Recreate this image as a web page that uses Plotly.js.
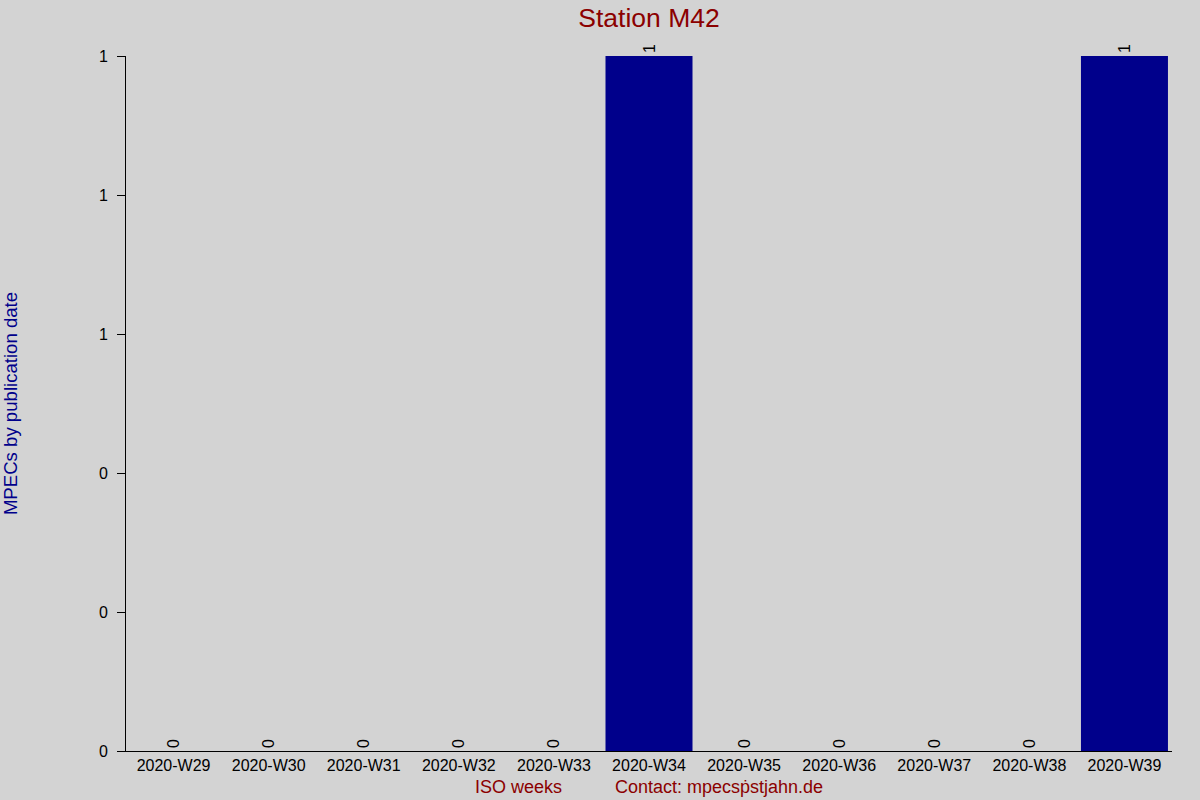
<!DOCTYPE html>
<html>
<head>
<meta charset="utf-8">
<script src="https://cdn.plot.ly/plotly-3.0.1.min.js"></script>
<style>
  html, body { margin: 0; padding: 0; background: #d3d3d3; }
  #chart { width: 1200px; height: 800px; }
</style>
</head>
<body>
<div id="chart"></div>
<script>
  // ISO weeks and MPEC counts
  const weeks = ['2020-W29', '2020-W30', '2020-W31', '2020-W32', '2020-W33', '2020-W34',
                 '2020-W35', '2020-W36', '2020-W37', '2020-W38', '2020-W39'];
  const counts = [0, 0, 0, 0, 0, 1, 0, 0, 0, 0, 1];
  const yTicks = [0, 0.2, 0.4, 0.6, 0.8, 1];

  const FONT = 'Liberation Sans, Arial, sans-serif';
  const DARKRED = '#8b0000';
  const NAVY = '#00008b';

  const trace = {
    type: 'bar',
    x: weeks,
    y: counts,
    marker: { color: NAVY },
    text: counts.map(String),
    textposition: 'outside',
    textangle: -90,
    constraintext: 'none',
    cliponaxis: false,
    textfont: { family: FONT, size: 16, color: '#000' },
    hoverinfo: 'x+y',
  };

  const layout = {
    width: 1200, height: 800,
    paper_bgcolor: '#d3d3d3',
    plot_bgcolor: '#d3d3d3',
    font: { family: FONT, size: 16, color: '#000' },
    margin: { l: 126, r: 28, t: 56, b: 49 },
    showlegend: false,
    bargap: 0.085,
    title: {
      text: 'Station M42',
      font: { family: FONT, size: 26.5, color: DARKRED },
      x: 0.5, xref: 'paper', y: 0.978, yanchor: 'middle',
    },
    xaxis: {
      type: 'category',
      showline: true, linecolor: '#000', linewidth: 1,
      ticks: '', showgrid: false, zeroline: false,
      tickfont: { family: FONT, size: 16, color: '#000' },
    },
    yaxis: {
      range: [0, 1],
      tickvals: yTicks,
      tickformat: '.0f',
      showline: true, linecolor: '#000', linewidth: 1,
      ticks: 'outside', ticklen: 8, tickcolor: '#000',
      ticklabelstandoff: 6,
      showgrid: false, zeroline: false,
      tickfont: { family: FONT, size: 16, color: '#000' },
      title: {
        text: 'MPECs by publication date',
        font: { family: FONT, size: 18.6, color: NAVY },
        standoff: 78,
      },
    },
    annotations: [
      { text: 'ISO weeks', xref: 'paper', yref: 'paper', x: 0.375, y: -0.052,
        xanchor: 'center', yanchor: 'middle', showarrow: false,
        font: { family: FONT, size: 18, color: DARKRED } },
      { text: 'Contact: mpecsṗstjahn.de', xref: 'paper', yref: 'paper', x: 0.567, y: -0.052,
        xanchor: 'center', yanchor: 'middle', showarrow: false,
        font: { family: FONT, size: 18, color: DARKRED } },
    ],
  };

  Plotly.newPlot('chart', [trace], layout, { displayModeBar: false, staticPlot: true });
</script>
</body>
</html>
